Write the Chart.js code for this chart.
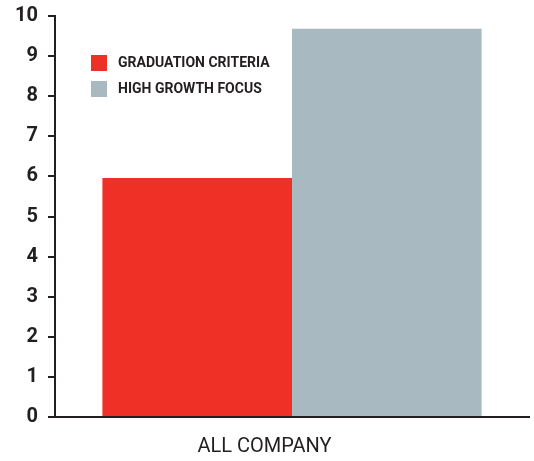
<!DOCTYPE html>
<html>
<head>
<meta charset="utf-8">
<script src="https://cdn.jsdelivr.net/npm/chart.js@4"></script>
<style>
  html, body { margin: 0; padding: 0; background: #fff; }
  #wrap { width: 534px; height: 461px; }
</style>
</head>
<body>
<div id="wrap"><canvas id="chart" width="534" height="461"></canvas></div>
<script>
const categories = ['ALL COMPANY'];
const seriesNames = ['GRADUATION CRITERIA', 'HIGH GROWTH FOCUS'];
const graduationCriteria = [5.96];
const highGrowthFocus = [9.68];
const yTicks = [0, 1, 2, 3, 4, 5, 6, 7, 8, 9, 10];

const INK = '#231f20';
const colors = ['#ee3026', '#a9b9c1'];

// legend drawn inside the plot, top-left
const innerLegend = {
  id: 'innerLegend',
  afterDraw(chart) {
    const ctx = chart.ctx;
    ctx.save();
    ctx.font = 'bold 14px Roboto';
    ctx.textBaseline = 'middle';
    chart.data.datasets.forEach((ds, i) => {
      const y = 55 + i * 26;
      ctx.fillStyle = ds.backgroundColor;
      ctx.fillRect(91, y, 16, 16);
      ctx.fillStyle = INK;
      ctx.fillText(ds.label, 118, y + 8.5);
    });
    ctx.restore();
  }
};

const ctx = document.getElementById('chart').getContext('2d');
new Chart(ctx, {
  type: 'bar',
  data: {
    labels: categories,
    datasets: [
      { label: seriesNames[0], data: graduationCriteria, backgroundColor: colors[0] },
      { label: seriesNames[1], data: highGrowthFocus, backgroundColor: colors[1] }
    ]
  },
  options: {
    responsive: false,
    animation: false,
    layout: { padding: { top: 16, right: 5, left: 0, bottom: 0 } },
    datasets: { bar: { categoryPercentage: 0.8, barPercentage: 1.0 } },
    plugins: {
      legend: { display: false },
      tooltip: { enabled: false },
      title: {
        display: true,
        position: 'bottom',
        text: categories[0],
        color: INK,
        font: { family: 'Roboto', size: 20, weight: 'normal' },
        padding: { top: 0, bottom: 2 }
      }
    },
    scales: {
      x: {
        grid: { display: false, drawTicks: false },
        border: { display: true, color: INK, width: 2 },
        ticks: { display: false },
        afterFit(scale) { scale.height = 18; }
      },
      y: {
        min: 0,
        max: 10,
        afterBuildTicks(scale) { scale.ticks = yTicks.map(v => ({ value: v })); },
        grid: { drawOnChartArea: false, drawTicks: true, tickLength: 7, color: INK, lineWidth: 2 },
        border: { display: true, color: INK, width: 2 },
        ticks: {
          color: INK,
          padding: 10,
          font: { family: 'Roboto', size: 20, weight: 'bold' }
        },
        afterFit(scale) {
          scale.width = 55;
          scale.paddingTop = 0;
          scale.paddingBottom = 0;
        }
      }
    }
  },
  plugins: [innerLegend]
});
</script>
</body>
</html>
